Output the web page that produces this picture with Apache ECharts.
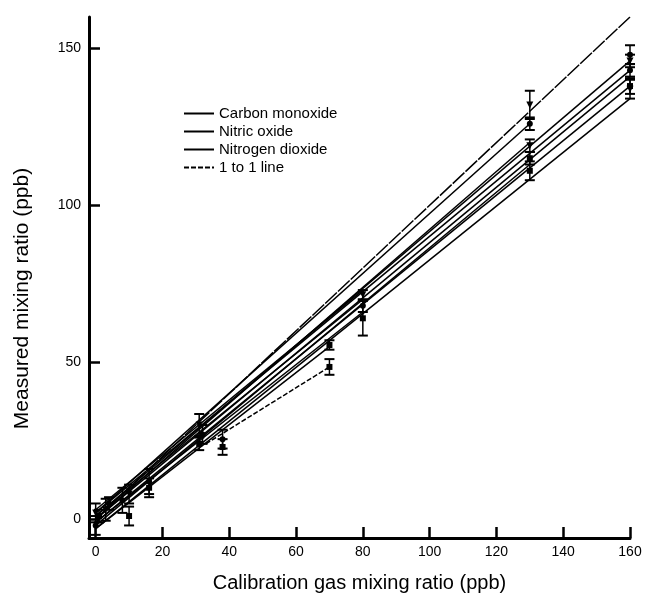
<!DOCTYPE html>
<html><head><meta charset="utf-8">
<script src="https://cdn.jsdelivr.net/npm/echarts@6/dist/echarts.min.js"></script>
<style>html,body{margin:0;padding:0;background:#fff}#c{width:645px;height:598px}</style>
</head><body><div id="c"></div>
<script>
// tick labels
const xTicks = [0, 20, 40, 60, 80, 100, 120, 140, 160];
const yTicks = [0, 50, 100, 150];

// fitted lines, each [x0, y0, x1, y1]
const oneToOne = [0, 0, 160, 160];
const coFits = [[0, 1, 160, 146], [0, 0, 160, 141], [0, -3, 160, 134], [0, 3, 80, 73]];
const noFits = [[0, 2, 160, 143], [0, -1, 160, 138], [0, 2, 130, 126], [0, 0, 130, 120]];
const no2Fits = [[0, 1, 80, 70], [0, -1, 80, 66], [0, -3, 70, 55], [0, -2, 130, 113]];
const no2Dashed = [[33, 24, 70, 48.5]];

// calibration points: x, measured y, error
const coX   = [0, 3, 10, 31, 80, 130, 130, 160, 160];
const coY   = [2, 3, 8, 30, 71.5, 132, 119, 146, 137];
const coErr = [3, 3.5, 3, 3.5, 1.5, 4.5, 2, 2, 3];

const noX   = [0, 4, 8, 16, 32, 38, 80, 130, 160, 160];
const noY   = [-2, 5, 6, 12, 27, 25.5, 68, 126, 148, 143];
const noErr = [3, 2, 4, 4, 3, 3, 2, 2, 3, 2];

const no2X   = [1, 10, 16, 31, 38, 70, 70, 80, 130, 130, 160];
const no2Y   = [1, 1, 10, 24, 23, 55.5, 48.5, 64, 115, 111, 138];
const no2Err = [2, 3, 3, 2, 2.5, 1.5, 2.5, 5.5, 2, 3, 2.5];

function lineSeries(name, f, dash) {
  return {
    type: 'line', name: name, data: [[f[0], f[1]], [f[2], f[3]]],
    symbol: 'none', silent: true, z: 3, color: '#000',
    lineStyle: { color: '#000', width: 1.5, type: dash || 'solid' }
  };
}

function errSeries(name, xs, ys, es, shape) {
  return {
    type: 'custom', name: name, z: 4, silent: true,
    data: xs.map((x, i) => [x, ys[i], es[i]]),
    renderItem: function (params, api) {
      const x = api.value(0), y = api.value(1), e = api.value(2);
      const t = api.coord([x, y + e]), b = api.coord([x, y - e]), c = api.coord([x, y]);
      const hw = 5, s = 3.5;
      const st = { stroke: '#000', lineWidth: 1.5 };
      let marker;
      if (shape === 'tri') {
        marker = { type: 'polygon', shape: { points: [[c[0] - s, c[1] - s], [c[0] + s, c[1] - s], [c[0], c[1] + s]] }, style: { fill: '#000' } };
      } else if (shape === 'circle') {
        marker = { type: 'circle', shape: { cx: c[0], cy: c[1], r: s - 0.5 }, style: { fill: '#000' } };
      } else {
        marker = { type: 'rect', shape: { x: c[0] - s + 0.5, y: c[1] - s + 0.5, width: 2 * s - 1, height: 2 * s - 1 }, style: { fill: '#000' } };
      }
      return {
        type: 'group', children: [
          { type: 'line', shape: { x1: t[0], y1: t[1], x2: b[0], y2: b[1] }, style: st },
          { type: 'line', shape: { x1: t[0] - hw, y1: t[1], x2: t[0] + hw, y2: t[1] }, style: { stroke: '#000', lineWidth: 2 } },
          { type: 'line', shape: { x1: b[0] - hw, y1: b[1], x2: b[0] + hw, y2: b[1] }, style: { stroke: '#000', lineWidth: 2 } },
          marker
        ]
      };
    }
  };
}

const series = [];
coFits.forEach(f => series.push(lineSeries('Carbon monoxide', f)));
noFits.forEach(f => series.push(lineSeries('Nitric oxide', f)));
no2Fits.forEach(f => series.push(lineSeries('Nitrogen dioxide', f)));
series.push(lineSeries('1 to 1 line', oneToOne, [16, 1.5]));
no2Dashed.forEach(f => series.push(lineSeries('NO2 short', f, [5, 2])));
series.push(errSeries('co pts', coX, coY, coErr, 'tri'));
series.push(errSeries('no pts', noX, noY, noErr, 'circle'));
series.push(errSeries('no2 pts', no2X, no2Y, no2Err, 'rect'));

const font = 'Liberation Sans, Arial, Helvetica, sans-serif';
const chart = echarts.init(document.getElementById('c'), null, { renderer: 'canvas' });
chart.setOption({
  animation: false,
  backgroundColor: '#fff',
  textStyle: { fontFamily: font, color: '#000' },
  grid: { left: 89, right: 15, top: 17, bottom: 56 },
  legend: {
    data: [
      { name: 'Carbon monoxide' }, { name: 'Nitric oxide' },
      { name: 'Nitrogen dioxide' }, { name: '1 to 1 line', lineStyle: { type: [5, 2] } }
    ],
    orient: 'vertical', left: 178, top: 101, itemWidth: 30, itemHeight: 14, itemGap: 3,
    itemStyle: { opacity: 0 },
    textStyle: { fontSize: 15, color: '#000', fontFamily: font }, selectedMode: false
  },
  xAxis: {
    type: 'value', min: -2, max: 160,
    name: 'Calibration gas mixing ratio (ppb)', nameLocation: 'middle', nameGap: 35,
    nameTextStyle: { fontSize: 20, color: '#000', fontFamily: font },
    axisLine: { onZero: false, lineStyle: { color: '#000', width: 3 } },
    axisTick: { inside: true, length: 11, customValues: xTicks, lineStyle: { color: '#000', width: 2.5 } },
    axisLabel: { customValues: xTicks, fontSize: 14, color: '#000', margin: 7, fontFamily: font },
    splitLine: { show: false }
  },
  yAxis: {
    type: 'value', min: -6, max: 160,
    name: 'Measured mixing ratio (ppb)', nameLocation: 'middle', nameGap: 56,
    nameTextStyle: { fontSize: 21, color: '#000', fontFamily: font, padding: [0, 42, 0, 0] },
    axisLine: { onZero: false, lineStyle: { color: '#000', width: 3 } },
    axisTick: { inside: true, length: 11, customValues: yTicks, lineStyle: { color: '#000', width: 2.5 } },
    axisLabel: { customValues: yTicks, fontSize: 14, color: '#000', margin: 8, fontFamily: font },
    splitLine: { show: false }
  },
  series: series
});
</script>
</body></html>
